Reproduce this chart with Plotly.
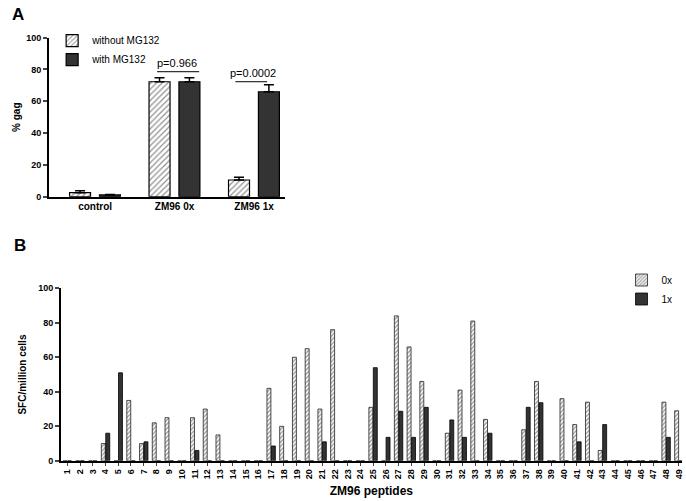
import plotly.graph_objects as go

# ---------------- Panel A data ----------------
groups_a = ["control", "ZM96 0x", "ZM96 1x"]
without_mg132 = [2.5, 72.3, 10.5]
without_mg132_err = [1.3, 2.5, 1.7]
with_mg132 = [1.1, 72.3, 66.0]
with_mg132_err = [0.3, 2.5, 4.4]
a_ticks = [0, 20, 40, 60, 80, 100]

# ---------------- Panel B data ----------------
peptides = [str(i) for i in range(1, 50)]
sfc_0x = [0, 0, 0, 10, 0, 35, 10, 22, 25, 0,
          25, 30, 15, 0, 0, 0, 42, 20, 60, 65,
          30, 76, 0, 0, 31, 0, 84, 66, 46, 0,
          16, 41, 81, 24, 0, 0, 18, 46, 0, 36,
          21, 34, 6, 0, 0, 0, 0, 34, 29]
sfc_1x = [0, 0, 0, 16, 51, 0, 11, 0, 0, 0,
          6, 0, 0, 0, 0, 0, 8.6, 0, 0, 0,
          11, 0, 0, 0, 54, 13.6, 28.7, 13.6, 31, 0,
          23.7, 13.6, 0, 16, 0, 0, 31, 33.7, 0, 0,
          11, 0, 21, 0, 0, 0, 0, 13.6, 0]
b_ticks = [0, 20, 40, 60, 80, 100]

FONT = "Liberation Sans, Arial, sans-serif"
DARK = "#333333"

fig = go.Figure()

# Panel A bars
fig.add_trace(go.Bar(
    x=groups_a, y=without_mg132, name="without MG132",
    xaxis="x", yaxis="y", legend="legend",
    width=0.264, offset=-0.321,
    marker=dict(color="white", line=dict(color="black", width=1.2),
                pattern=dict(shape="/", fgcolor="#222222", bgcolor="white",
                             size=4, solidity=0.3)),
    error_y=dict(type="data", symmetric=False, array=without_mg132_err,
                 arrayminus=[0] * len(without_mg132_err),
                 color="black", thickness=1.5, width=5),
))
fig.add_trace(go.Bar(
    x=groups_a, y=with_mg132, name="with MG132",
    xaxis="x", yaxis="y", legend="legend",
    width=0.264, offset=0.055,
    marker=dict(color=DARK, line=dict(color="black", width=1.2)),
    error_y=dict(type="data", symmetric=False, array=with_mg132_err,
                 arrayminus=[0] * len(with_mg132_err),
                 color="black", thickness=1.5, width=5),
))

# Panel B bars
fig.add_trace(go.Bar(
    x=peptides, y=sfc_0x, name="0x",
    xaxis="x2", yaxis="y2", legend="legend2",
    width=0.31, offset=-0.33,
    marker=dict(color="white", line=dict(color="#222222", width=0.8),
                pattern=dict(shape="/", fgcolor="#444444", bgcolor="white",
                             size=3, solidity=0.5)),
))
fig.add_trace(go.Bar(
    x=peptides, y=sfc_1x, name="1x",
    xaxis="x2", yaxis="y2", legend="legend2",
    width=0.31, offset=0.02,
    marker=dict(color=DARK, line=dict(color="black", width=0.8)),
))

axis_common = dict(showgrid=False, zeroline=False, showline=True,
                   linecolor="black", linewidth=1.6, automargin=False)

fig.update_layout(
    width=686, height=501,
    margin=dict(l=0, r=0, t=0, b=0),
    paper_bgcolor="white", plot_bgcolor="white",
    font=dict(family=FONT, color="black"),
    barmode="overlay",
    xaxis=dict(domain=[0.0714, 0.4155], anchor="y", range=[-0.58, 2.39],
               ticks="", tickfont=dict(size=10, weight="bold"),
               **axis_common),
    yaxis=dict(domain=[0.6074, 0.9248], anchor="x", range=[0, 100],
               tickvals=a_ticks, ticks="outside", ticklen=4, tickwidth=1.5,
               tickfont=dict(size=9, weight="bold"),
               title=dict(text="% gag", font=dict(size=10, weight="bold"),
                          standoff=4),
               **axis_common),
    xaxis2=dict(domain=[0.0889, 0.9937], anchor="y2", range=[-0.495, 48.22],
                ticks="outside", ticklen=3, tickwidth=1.2, tickangle=-90,
                tickfont=dict(size=9, weight="bold"),
                title=dict(text="ZM96 peptides", font=dict(size=12, weight="bold"),
                           standoff=8),
                **axis_common),
    yaxis2=dict(domain=[0.0802, 0.4246], anchor="x2", range=[0, 100],
                tickvals=b_ticks, ticks="outside", ticklen=4, tickwidth=1.5,
                tickfont=dict(size=9, weight="bold"),
                title=dict(text="SFC/million cells", font=dict(size=10, weight="bold"),
                           standoff=10),
                **axis_common),
    legend=dict(x=0.076, y=0.948, xanchor="left", yanchor="top",
                bgcolor="rgba(0,0,0,0)", font=dict(size=10),
                traceorder="normal"),
    legend2=dict(x=0.906, y=0.47, xanchor="left", yanchor="top",
                 bgcolor="rgba(0,0,0,0)", font=dict(size=10),
                 traceorder="normal"),
    showlegend=True,
)

# significance brackets and p-values (panel A)
fig.add_shape(type="line", xref="x", yref="y", x0=0.78, x1=1.31, y0=78.6, y1=78.6,
              line=dict(color="black", width=1))
fig.add_shape(type="line", xref="x", yref="y", x0=1.765, x1=2.164, y0=72.3, y1=72.3,
              line=dict(color="black", width=1))
fig.add_annotation(x=1.03, y=84.3, xref="x", yref="y", text="p=0.966",
                   showarrow=False, font=dict(size=11), yanchor="middle")
fig.add_annotation(x=1.985, y=78.0, xref="x", yref="y", text="p=0.0002",
                   showarrow=False, font=dict(size=11), yanchor="middle")

# panel letters
fig.add_annotation(x=10 / 686, y=1 - 3 / 501, xref="paper", yref="paper", text="A",
                   showarrow=False, xanchor="left", yanchor="top",
                   font=dict(size=17, weight="bold"))
fig.add_annotation(x=12 / 686, y=1 - 234 / 501, xref="paper", yref="paper", text="B",
                   showarrow=False, xanchor="left", yanchor="top",
                   font=dict(size=17, weight="bold"))

fig.write_html("out.html",
               config={"displayModeBar": False},
               post_script="document.body.style.margin='0px';")
